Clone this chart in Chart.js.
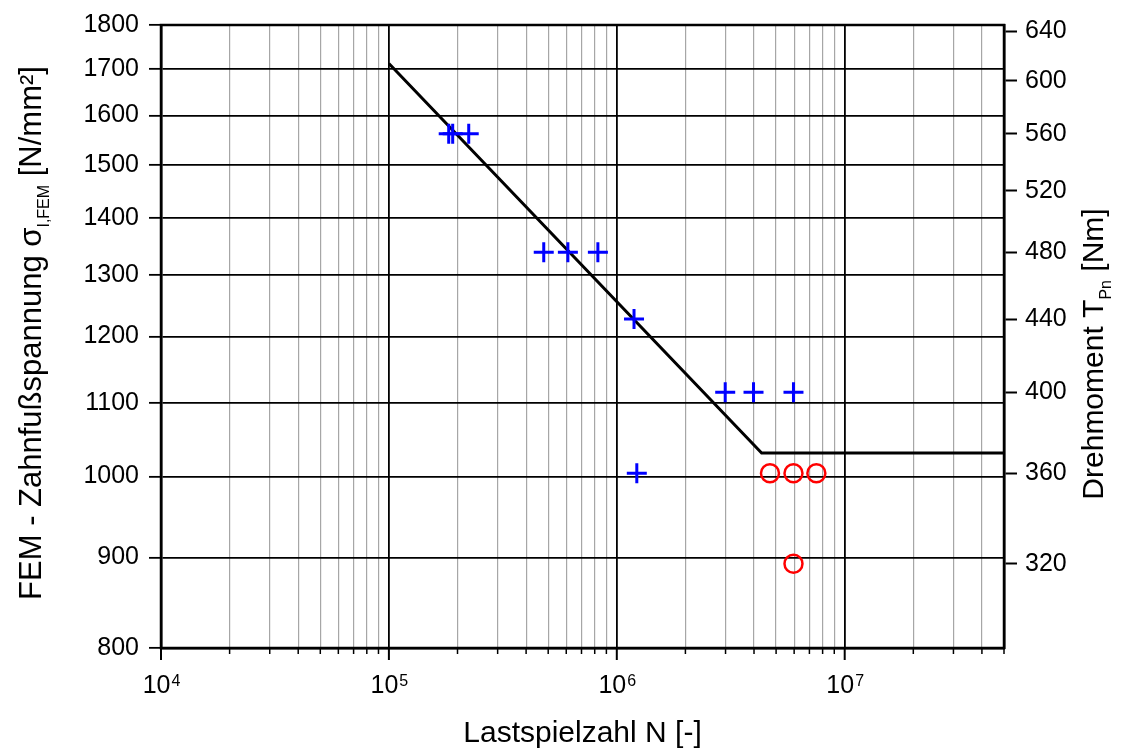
<!DOCTYPE html>
<html><head><meta charset="utf-8">
<script src="https://cdn.jsdelivr.net/npm/chart.js@4"></script>
<style>html,body{margin:0;padding:0;background:#fff}canvas{display:block}</style>
</head><body>
<canvas id="c" width="1121" height="749"></canvas>
<script>
// ---- data ----
const plusN = [1.83e5, 1.905e5, 2.24e5, 4.78e5, 6.1e5, 8.26e5, 1.19e6, 2.99e6, 3.98e6, 5.96e6, 1.224e6];
const plusT = [560, 560, 560, 480, 480, 480, 440, 400, 400, 400, 360];
const circleN = [4.70e6, 5.96e6, 7.51e6, 5.96e6];
const circleT = [360, 360, 360, 320];
const lineN = [1e5, 4.32e6, 5e7];
const lineSigma = [1712, 1031, 1031];

const yTicks = [800, 900, 1000, 1100, 1200, 1300, 1400, 1500, 1600, 1700, 1800];
const y2Ticks = [320, 360, 400, 440, 480, 520, 560, 600, 640];
const xExponents = [4, 5, 6, 7];
const xMantissas = [1, 2, 3, 4, 5, 6, 7, 8, 9];
const xRange = [1e4, 5e7];
const yRange = [800, 1800];
const torqueFactor = 2.79;

const xTicks = [];
xExponents.forEach(e => xMantissas.forEach(m => { const v = m * Math.pow(10, e); if (v <= xRange[1] * 1.0001) xTicks.push(v); }));

const FONT = "'Liberation Sans', Arial, sans-serif";
Chart.defaults.font.family = FONT;
Chart.defaults.color = '#000';

function isPow10(v) { const l = Math.log10(v); return Math.abs(l - Math.round(l)) < 1e-9; }

function drawRich(ctx, parts, x, y, angle) {
  ctx.save();
  ctx.translate(x, y);
  ctx.rotate(angle);
  ctx.textBaseline = 'alphabetic';
  ctx.textAlign = 'left';
  let w = 0;
  parts.forEach(p => { ctx.font = p.size + 'px ' + FONT; p.w = ctx.measureText(p.t).width; w += p.w; });
  let cx = -w / 2;
  parts.forEach(p => { ctx.font = p.size + 'px ' + FONT; ctx.fillText(p.t, cx, p.dy || 0); cx += p.w; });
  ctx.restore();
}

const deco = {
  id: 'deco',
  afterDraw(chart) {
    const { ctx, chartArea: a, scales } = chart;
    ctx.save();
    ctx.fillStyle = '#000';
    ctx.strokeStyle = '#000';
    // x tick marks
    const xs = scales.x;
    xTicks.forEach(v => {
      const px = xs.getPixelForValue(v);
      const major = isPow10(v);
      ctx.lineWidth = major ? 2 : 1.5;
      ctx.beginPath(); ctx.moveTo(px, a.bottom); ctx.lineTo(px, a.bottom + (major ? 12 : 6)); ctx.stroke();
    });
    // frame
    ctx.lineWidth = 2.5;
    ctx.strokeRect(a.left, a.top, a.right - a.left, a.bottom - a.top);
    // x tick labels with superscript
    xExponents.forEach(e => {
      const px = xs.getPixelForValue(Math.pow(10, e));
      ctx.font = '25px ' + FONT; const wb = ctx.measureText('10').width;
      ctx.font = '16px ' + FONT; const we = ctx.measureText(String(e)).width;
      const sx = px - (wb + we) / 2;
      ctx.textBaseline = 'alphabetic'; ctx.textAlign = 'left';
      ctx.font = '25px ' + FONT; ctx.fillText('10', sx, 693);
      ctx.font = '16px ' + FONT; ctx.fillText(String(e), sx + wb + 1, 686);
    });
    // axis titles
    drawRich(ctx, [{ t: 'Lastspielzahl N [-]', size: 30 }], (a.left + a.right) / 2, 742, 0);
    drawRich(ctx, [
      { t: 'FEM - Zahnfußspannung σ', size: 31 },
      { t: 'I,FEM', size: 16, dy: 8 },
      { t: ' [N/mm²]', size: 31 }
    ], 41, 333, -Math.PI / 2);
    drawRich(ctx, [
      { t: 'Drehmoment T', size: 30 },
      { t: 'Pn', size: 16, dy: 8 },
      { t: ' [Nm]', size: 30 }
    ], 1103, 354, -Math.PI / 2);
    ctx.restore();
  }
};

new Chart(document.getElementById('c'), {
  type: 'scatter',
  data: {
    datasets: [
      {
        label: 'Bruch',
        data: plusN.map((n, i) => ({ x: n, y: plusT[i] })),
        yAxisID: 'y2', pointStyle: 'cross', pointRadius: 10,
        borderColor: '#0000ff', backgroundColor: '#0000ff', borderWidth: 3, order: 1
      },
      {
        label: 'Durchläufer',
        data: circleN.map((n, i) => ({ x: n, y: circleT[i] })),
        yAxisID: 'y2', pointStyle: 'circle', pointRadius: 9,
        borderColor: '#ff0000', backgroundColor: 'rgba(0,0,0,0)', borderWidth: 2.5, order: 1
      },
      {
        label: 'Wöhlerlinie',
        data: lineN.map((n, i) => ({ x: n, y: lineSigma[i] })),
        yAxisID: 'y', showLine: true, pointRadius: 0,
        borderColor: '#000', borderWidth: 3, fill: false, order: 2
      }
    ]
  },
  options: {
    responsive: false, animation: false, events: [],
    layout: { padding: { top: 23, left: 0, right: 0, bottom: 0 } },
    plugins: { legend: { display: false }, tooltip: { enabled: false } },
    scales: {
      x: {
        type: 'logarithmic', min: xRange[0], max: xRange[1],
        afterBuildTicks: s => { s.ticks = xTicks.map(v => ({ value: v })); },
        afterFit: s => { s.height = 101; },
        ticks: { display: false, autoSkip: false },
        grid: {
          drawTicks: false,
          color: c => (c.tick && isPow10(c.tick.value)) ? '#000' : '#a6a6a6',
          lineWidth: c => (c.tick && isPow10(c.tick.value)) ? 1.8 : 1.2
        },
        border: { display: true, color: '#000', width: 2.5 }
      },
      y: {
        type: 'logarithmic', position: 'left', min: yRange[0], max: yRange[1],
        afterBuildTicks: s => { s.ticks = yTicks.map(v => ({ value: v })); },
        afterFit: s => { s.width = 161; },
        ticks: { autoSkip: false, font: { size: 25 }, padding: 10, color: '#000', callback: v => String(v) },
        grid: { color: '#000', lineWidth: 1.7, drawTicks: true, tickLength: 12, tickColor: '#000', tickWidth: 1.8 },
        border: { display: true, color: '#000', width: 2.5 }
      },
      y2: {
        type: 'logarithmic', position: 'right',
        min: yRange[0] / torqueFactor, max: yRange[1] / torqueFactor,
        afterBuildTicks: s => { s.ticks = y2Ticks.map(v => ({ value: v })); },
        afterFit: s => { s.width = 117; },
        ticks: { autoSkip: false, font: { size: 25 }, padding: 8, color: '#000', callback: v => String(v) },
        grid: { drawOnChartArea: false, drawTicks: true, tickLength: 13, tickColor: '#000', tickWidth: 2, color: '#000' },
        border: { display: true, color: '#000', width: 2.5 }
      }
    }
  },
  plugins: [deco]
});
</script>
</body></html>
